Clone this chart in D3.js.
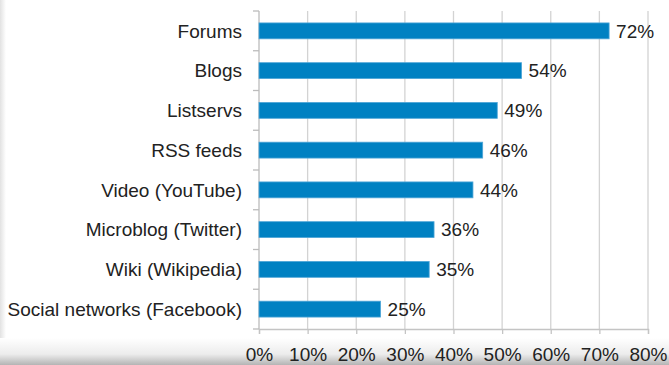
<!DOCTYPE html>
<html>
<head>
<meta charset="utf-8">
<script src="https://cdn.jsdelivr.net/npm/d3@7"></script>
<style>
  body { margin: 0; background: #fff; }
  svg { display: block; font-family: "Liberation Sans", Arial, sans-serif; }
</style>
</head>
<body>
<div id="chart"></div>
<script>
var categories = ["Forums", "Blogs", "Listservs", "RSS feeds", "Video (YouTube)",
  "Microblog (Twitter)", "Wiki (Wikipedia)", "Social networks (Facebook)"];
var values = [72, 54, 49, 46, 44, 36, 35, 25];
var tickValues = [0, 10, 20, 30, 40, 50, 60, 70, 80];

var W = 669, H = 365;
var margin = { top: 11, left: 259, right: 21, bottom: 36 };
var fontSize = "19px";

var svg = d3.select("#chart").append("svg")
  .attr("width", W)
  .attr("height", H);

var defs = svg.append("defs");
var gb = defs.append("linearGradient").attr("id", "shadeBottom")
  .attr("x1", 0).attr("y1", 0).attr("x2", 0).attr("y2", 1);
gb.append("stop").attr("offset", "0").attr("stop-color", "#ffffff");
gb.append("stop").attr("offset", "0.6").attr("stop-color", "#ececec");
gb.append("stop").attr("offset", "1").attr("stop-color", "#b4b4b4");
var gl = defs.append("linearGradient").attr("id", "shadeLeft")
  .attr("x1", 0).attr("y1", 0).attr("x2", 1).attr("y2", 0);
gl.append("stop").attr("offset", "0").attr("stop-color", "#e2e2e2");
gl.append("stop").attr("offset", "1").attr("stop-color", "#ffffff");

// page shading like the screenshot
svg.append("rect").attr("x", 0).attr("y", 0).attr("width", 6).attr("height", H)
  .attr("fill", "url(#shadeLeft)");
svg.append("rect").attr("x", 0).attr("y", 338).attr("width", W).attr("height", H - 338)
  .attr("fill", "url(#shadeBottom)");

var x = d3.scaleLinear()
  .domain([0, 80])
  .range([margin.left, W - margin.right]);

var yTop = margin.top, yBot = H - margin.bottom;

var y = d3.scaleBand()
  .domain(categories)
  .range([yTop, yBot])
  .paddingInner(0.6)
  .paddingOuter(0.3);

// gridlines
svg.append("g").selectAll("line")
  .data(tickValues.slice(1))
  .enter().append("line")
  .attr("x1", function (d) { return x(d); })
  .attr("x2", function (d) { return x(d); })
  .attr("y1", yTop)
  .attr("y2", yBot)
  .attr("stroke", "#d3d3d3")
  .attr("stroke-width", 1.3);

// bottom axis
var xAxis = svg.append("g")
  .attr("transform", "translate(0," + yBot + ")")
  .call(d3.axisBottom(x)
    .tickValues(tickValues)
    .tickSize(5)
    .tickPadding(14)
    .tickFormat(function (d) { return d + "%"; }));
xAxis.select(".domain").attr("stroke", "#c4c4c4").attr("stroke-width", 1.3);
xAxis.selectAll(".tick line").attr("stroke", "#c4c4c4").attr("stroke-width", 1.3);
xAxis.selectAll("text")
  .attr("fill", "#222")
  .style("font-size", fontSize);

// left axis with ticks on band boundaries
var step = y.step();
var bounds = d3.range(categories.length + 1).map(function (i) {
  return yTop + i * step;
});
svg.append("line")
  .attr("x1", x(0)).attr("x2", x(0))
  .attr("y1", yTop).attr("y2", yBot)
  .attr("stroke", "#bcbcbc").attr("stroke-width", 1.3);
svg.append("g").selectAll("line")
  .data(bounds)
  .enter().append("line")
  .attr("x1", x(0) - 6).attr("x2", x(0))
  .attr("y1", function (d) { return d; })
  .attr("y2", function (d) { return d; })
  .attr("stroke", "#bcbcbc").attr("stroke-width", 1.3);

// category labels
svg.append("g").selectAll("text")
  .data(categories)
  .enter().append("text")
  .attr("x", x(0) - 17)
  .attr("y", function (d) { return y(d) + y.bandwidth() / 2; })
  .attr("dy", "0.35em")
  .attr("text-anchor", "end")
  .attr("fill", "#222")
  .style("font-size", fontSize)
  .text(function (d) { return d; });

// bars
svg.append("g").selectAll("rect")
  .data(values)
  .enter().append("rect")
  .attr("x", x(0))
  .attr("y", function (d, i) { return y(categories[i]); })
  .attr("width", function (d) { return x(d) - x(0); })
  .attr("height", y.bandwidth())
  .attr("fill", "#0081c2")
  .attr("stroke", "#4fa6d8")
  .attr("stroke-width", 0.8);

// value labels
svg.append("g").selectAll("text")
  .data(values)
  .enter().append("text")
  .attr("x", function (d) { return x(d) + 7; })
  .attr("y", function (d, i) { return y(categories[i]) + y.bandwidth() / 2; })
  .attr("dy", "0.35em")
  .attr("fill", "#222")
  .style("font-size", fontSize)
  .text(function (d) { return d + "%"; });
</script>
</body>
</html>
